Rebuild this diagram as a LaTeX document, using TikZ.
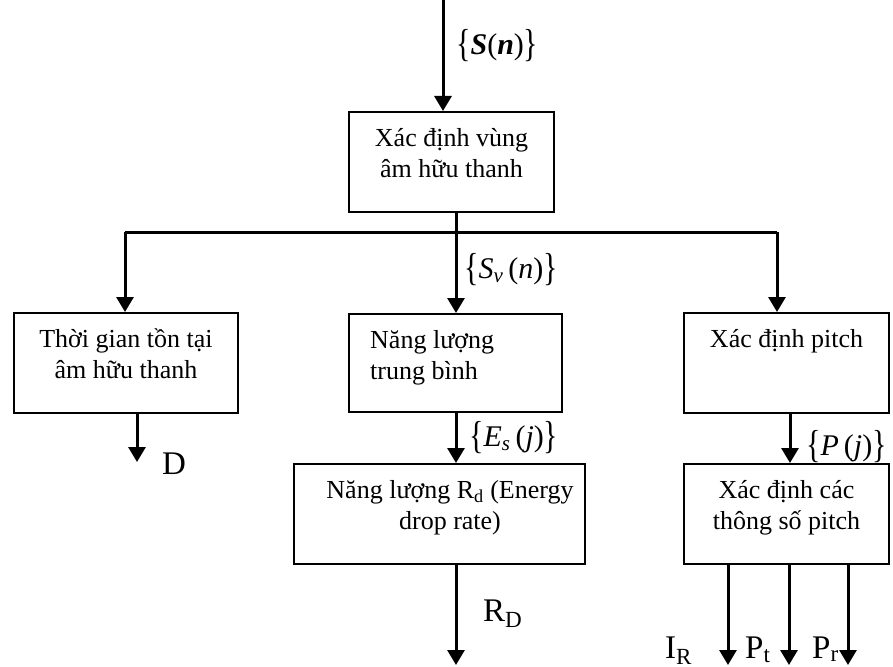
\documentclass[tikz,border=0pt]{standalone}
\usepackage{fontspec}
\usepackage{graphicx}
\setmainfont{Liberation Serif}
\usetikzlibrary{arrows.meta,calc}

\newcommand\boxfont{\fontsize{26}{31}\selectfont}
\newcommand\lblfont{\fontsize{33}{38}\selectfont}
\newcommand\setfont{\fontsize{30}{34}\selectfont}
\newcommand\openbr{\raisebox{-2pt}{\scalebox{1}[1.3]{\{}}}
\newcommand\closebr{\raisebox{-2pt}{\scalebox{1}[1.3]{\}}}}

\tikzset{
  block/.style={draw, line width=2pt, rectangle, anchor=north west, inner sep=0pt},
  blocktext/.style={font=\boxfont, align=center, anchor=north, inner sep=0pt},
  wire/.style={line width=3pt},
  flow/.style={line width=3pt, -{Triangle[length=15pt,width=17pt]}},
  setlabel/.style={font=\setfont, anchor=west, inner sep=0pt},
  outlabel/.style={font=\lblfont, anchor=base west, inner sep=0pt},
}

\begin{document}
\begin{tikzpicture}[x=1pt, y=-1pt]
  \useasboundingbox (0,0) rectangle (893,666);

  % processing blocks
  \node[block, minimum width=205pt, minimum height=100pt] (vung) at (348,111) {};
  \node[block, minimum width=224pt, minimum height=100pt] (thoigian) at (13,312) {};
  \node[block, minimum width=213pt, minimum height=98pt]  (nangluong) at (348,313) {};
  \node[block, minimum width=205pt, minimum height=100pt] (pitch) at (683,312) {};
  \node[block, minimum width=291pt, minimum height=100pt] (rd) at (293,463) {};
  \node[block, minimum width=205pt, minimum height=100pt] (thongso) at (683,463) {};

  % block captions
  \node[blocktext] (tvung) at ($(vung.north)+(0,13.6)$) {\strut Xác định vùng\\âm hữu thanh};
  \node[blocktext] (tthoigian) at ($(thoigian.north)+(0,13.6)$) {\strut Thời gian tồn tại\\âm hữu thanh};
  \node[blocktext, anchor=north west, align=left] (tnangluong) at (370,326.6) {\strut Năng lượng\\trung bình};
  \node[blocktext] (tpitch) at ($(pitch.north)+(0,13.6)$) {\strut Xác định pitch};
  \node[blocktext] (trd) at (450,476.6) {\strut Năng lượng R\textsubscript{d} (Energy\\drop rate)};
  \node[blocktext] (tthongso) at ($(thongso.north)+(0,13.6)$) {\strut Xác định các\\thông số pitch};

  % junction points
  \coordinate (src) at (443,0);
  \coordinate (jL) at (125,232);
  \coordinate (jM) at (456,232);
  \coordinate (jR) at (777,232);
  \coordinate (outD) at (137,462);
  \coordinate (outRD) at (456,665);
  \coordinate (outIR) at (728,665);
  \coordinate (outPt) at (789,665);
  \coordinate (outPr) at (848,665);

  % connectors
  \draw[flow] (src) -- (src |- vung.north);
  \draw[wire] (jL) -- (jR);
  \draw[flow] (jL) -- (jL |- thoigian.north);
  \draw[flow] (jR) -- (jR |- pitch.north);
  \draw[flow] (vung.south -| jM) -- (jM |- nangluong.north);
  \draw[flow] (nangluong.south -| jM) -- (jM |- rd.north);
  \draw[flow] (rd.south -| outRD) -- (outRD);
  \draw[flow] (thoigian.south -| outD) -- (outD);
  \draw[flow] (pitch.south -| 790,0) -- (790,0 |- thongso.north);
  \draw[flow] (thongso.south -| outIR) -- (outIR);
  \draw[flow] (thongso.south -| outPt) -- (outPt);
  \draw[flow] (thongso.south -| outPr) -- (outPr);

  % signal labels
  \node[setlabel] (lS) at (456,46) {\openbr\textbf{\textit{S}}(\textbf{\textit{n}})\closebr};
  \node[setlabel] (lSv) at (464,270) {\openbr\textit{S}\textsubscript{\textit{v}}\,(\textit{n})\closebr};
  \node[setlabel] (lEs) at (469,438) {\openbr\textit{E}\textsubscript{\textit{s}}\,(\textit{j})\closebr};
  \node[setlabel] (lP) at (806,447) {\openbr\textit{P}\,(\textit{j})\closebr};

  % output labels
  \node[outlabel] (lD) at (162,474) {D};
  \node[outlabel] (lRD) at (483,621) {R\textsubscript{D}};
  \node[outlabel] (lIR) at (665,658) {I\textsubscript{R}};
  \node[outlabel] (lPt) at (745,658) {P\textsubscript{t}};
  \node[outlabel] (lPr) at (812,658) {P\textsubscript{r}};
\end{tikzpicture}
\end{document}
